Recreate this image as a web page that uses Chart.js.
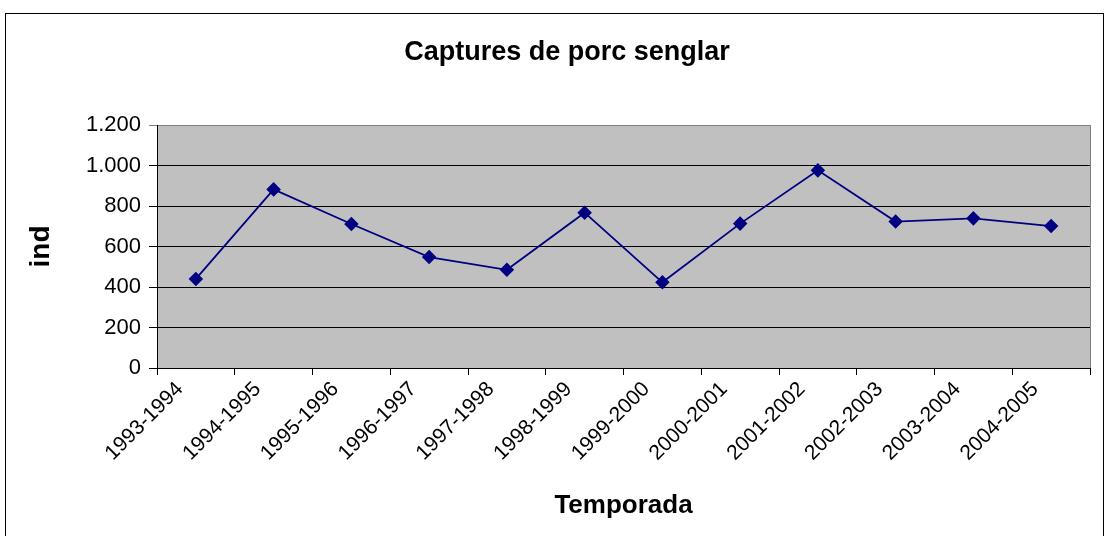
<!DOCTYPE html>
<html>
<head>
<meta charset="utf-8">
<script src="https://cdn.jsdelivr.net/npm/chart.js@4"></script>
<style>
  html, body { margin: 0; padding: 0; background: #fff; }
  #wrap { width: 1109px; height: 536px; position: relative; }
</style>
</head>
<body>
<div id="wrap"><canvas id="capturesChart" width="1109" height="536"></canvas></div>
<script>
// dades
const temporades = ['1993-1994', '1994-1995', '1995-1996', '1996-1997', '1997-1998', '1998-1999',
    '1999-2000', '2000-2001', '2001-2002', '2002-2003', '2003-2004', '2004-2005'];
const captures = [440, 882, 711, 548, 485, 767, 423, 713, 976, 723, 739, 701];
const yTicks = [0, 200, 400, 600, 800, 1000, 1200];
const titol = 'Captures de porc senglar';

const FONT = '"Liberation Sans", Arial, sans-serif';

// fons gris de l'area del grafic + marc exterior + titol
const plotBg = {
    id: 'plotBg',
    beforeDraw(chart) {
        const c = chart.ctx, a = chart.chartArea;
        c.save();
        c.strokeStyle = '#000';
        c.lineWidth = 1;
        c.strokeRect(5.5, 13.5, 1098, 540);
        c.fillStyle = '#c0c0c0';
        c.fillRect(a.left, a.top, a.right - a.left, a.bottom - a.top);
        c.strokeStyle = '#808080';
        c.strokeRect(a.left + 0.5, a.top + 0.5, a.right - a.left, a.bottom - a.top);
        // titol centrat sobre el marc, no sobre l'area
        c.fillStyle = '#000';
        c.font = 'bold 27px ' + FONT;
        c.textAlign = 'center';
        c.textBaseline = 'alphabetic';
        c.fillText(titol, 567, 60);
        c.restore();
    }
};

const ctx = document.getElementById('capturesChart');

new Chart(ctx, {
    type: 'line',
    data: {
        labels: temporades,
        datasets: [{
            label: 'Captures',
            data: captures,
            borderColor: '#000080',
            backgroundColor: '#000080',
            borderWidth: 1.8,
            pointStyle: 'rectRot',
            pointRadius: 6,
            pointHoverRadius: 6,
            tension: 0
        }]
    },
    options: {
        responsive: false,
        animation: false,
        layout: { padding: { top: 125, left: 8, right: 19, bottom: 8 } },
        plugins: {
            legend: { display: false },
            tooltip: { enabled: false },
            title: { display: false }
        },
        scales: {
            x: {
                offset: true,
                afterFit(scale) { scale.height = 160; },
                grid: { drawOnChartArea: false, offset: true, tickLength: 7, color: '#000' },
                border: { color: '#000' },
                ticks: {
                    color: '#000',
                    font: { family: FONT, size: 21 },
                    minRotation: 45,
                    maxRotation: 45,
                    autoSkip: false,
                    labelOffset: -16,
                    padding: 2
                },
                title: {
                    display: true,
                    text: 'Temporada',
                    color: '#000',
                    font: { family: FONT, size: 26, weight: 'bold' },
                    padding: { top: 4, bottom: 7 }
                }
            },
            y: {
                min: 0,
                max: 1200,
                afterFit(scale) { scale.width = 149; },
                afterBuildTicks(scale) { scale.ticks = yTicks.map(v => ({ value: v })); },
                grid: {
                    tickLength: 8,
                    color: ctx => ctx.tick && ctx.tick.value === 1200 ? '#808080' : '#000'
                },
                border: { color: '#000' },
                ticks: {
                    color: '#000',
                    font: { family: FONT, size: 22 },
                    padding: 8,
                    callback: v => v.toLocaleString('de-DE')
                },
                title: {
                    display: true,
                    text: 'ind',
                    color: '#000',
                    font: { family: FONT, size: 28, weight: 'bold' },
                    padding: { top: 16, bottom: 0 }
                }
            }
        }
    },
    plugins: [plotBg]
});
</script>
</body>
</html>
